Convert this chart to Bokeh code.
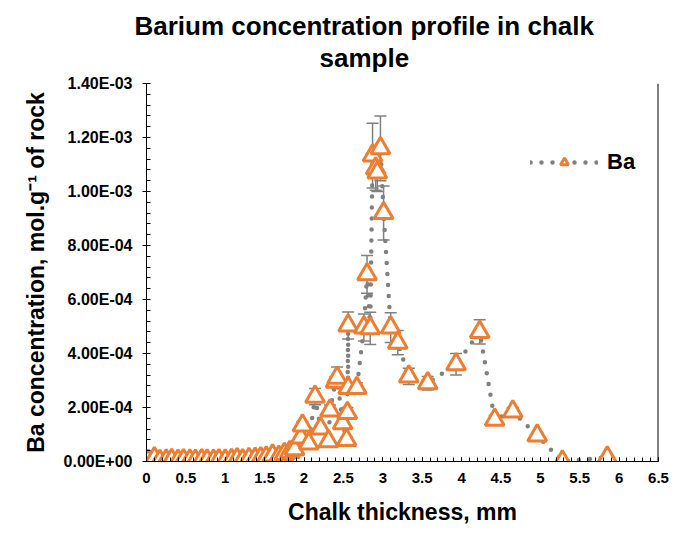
from bokeh.plotting import figure
from bokeh.models import (ColumnDataSource, Whisker, TeeHead, Title, Legend, LegendItem, Span,
                          SingleIntervalTicker, CustomJSTickFormatter, Range1d)
from bokeh.embed import file_html
from bokeh.resources import INLINE

# ---- data ----
thickness_mm = [0.02, 0.10, 0.17, 0.25, 0.32, 0.40, 0.47, 0.55, 0.62, 0.70, 0.77, 0.85, 0.92,
                1.00, 1.08, 1.15, 1.22, 1.30, 1.38, 1.45, 1.52, 1.60, 1.68, 1.75, 1.82, 1.88,
                1.96, 1.98, 2.06, 2.14, 2.21, 2.31, 2.33, 2.40, 2.42, 2.49, 2.54, 2.55, 2.56,
                2.56, 2.67, 2.76, 2.80, 2.84, 2.87, 2.91, 2.93, 2.97, 3.01, 3.10, 3.19, 3.33,
                3.57, 3.93, 4.23, 4.42, 4.65, 4.96, 5.28, 5.85]
ba_conc = [0.3e-5, 1.2e-5, 0.2e-5, 0.4e-5, 0.6e-5, 0.3e-5, 0.5e-5, 0.4e-5, 0.3e-5, 0.5e-5,
           0.4e-5, 0.3e-5, 0.5e-5, 0.4e-5, 0.6e-5, 0.8e-5, 0.5e-5, 0.9e-5, 1.0e-5, 1.2e-5,
           1.5e-5, 2.2e-5, 1.8e-5, 2.8e-5, 3.5e-5, 4.5e-5,
           0.89e-4, 1.33e-4, 0.67e-4, 2.40e-4, 1.22e-4, 0.75e-4, 1.89e-4, 2.95e-4, 3.10e-4,
           1.42e-4, 0.80e-4, 1.80e-4, 5.04e-4, 2.72e-4, 2.72e-4, 4.96e-4, 6.93e-4, 4.93e-4,
           11.33e-4, 10.85e-4, 10.70e-4, 11.60e-4, 9.20e-4, 4.96e-4, 4.40e-4, 3.15e-4,
           2.90e-4, 3.60e-4, 4.80e-4, 1.55e-4, 1.85e-4, 0.96e-4, 0.0, 0.15e-4]
ba_err = [0.1e-5, 0.2e-5, 0.1e-5, 0.1e-5, 0.1e-5, 0.1e-5, 0.1e-5, 0.1e-5, 0.1e-5, 0.1e-5,
          0.1e-5, 0.1e-5, 0.1e-5, 0.1e-5, 0.1e-5, 0.1e-5, 0.1e-5, 0.2e-5, 0.2e-5, 0.2e-5,
          0.2e-5, 0.3e-5, 0.3e-5, 0.4e-5, 0.5e-5, 0.6e-5,
          0.10e-4, 0.15e-4, 0.10e-4, 0.30e-4, 0.12e-4, 0.10e-4, 0.20e-4, 0.20e-4, 0.40e-4,
          0.15e-4, 0.10e-4, 0.20e-4, 0.50e-4, 0.20e-4, 0.20e-4, 0.50e-4, 0.70e-4, 0.60e-4,
          1.20e-4, 0.80e-4, 0.70e-4, 1.20e-4, 1.00e-4, 0.55e-4, 0.45e-4, 0.30e-4,
          0.25e-4, 0.40e-4, 0.45e-4, 0.15e-4, 0.15e-4, 0.10e-4, 0.0, 0.02e-4]

series_name = "Ba"
title_lines = ["Barium concentration profile in chalk", "sample"]
x_title = "Chalk thickness, mm"
y_title = "Ba concentration, mol.g\u207b\u00b9 of rock"

FONT = "Liberation Sans"
ORANGE = "#ED7D31"
GREY = "#808080"

src = ColumnDataSource(dict(
    x=thickness_mm, y=ba_conc,
    upper=[v + e for v, e in zip(ba_conc, ba_err)],
    lower=[v - e for v, e in zip(ba_conc, ba_err)],
))

p = figure(width=678, height=528, output_backend="svg", toolbar_location=None,
           x_range=Range1d(0, 6.5), y_range=Range1d(0, 1.4e-3),
           frame_width=512, frame_height=378,
           min_border_left=146, min_border_right=20, min_border_top=83, min_border_bottom=67,
           title=None, outline_line_color=None)

p.xgrid.grid_line_color = None
p.ygrid.grid_line_color = None

# axes
xa = p.xaxis[0]
xa.ticker = SingleIntervalTicker(interval=0.5, num_minor_ticks=5)
xa.axis_label = x_title
ya = p.yaxis[0]
ya.ticker = SingleIntervalTicker(interval=2e-4, num_minor_ticks=5)
ya.axis_label = y_title
ya.formatter = CustomJSTickFormatter(code="""
    const s = tick.toExponential(2).split('e');
    const sign = s[1][0];
    const d = s[1].slice(1).padStart(2, '0');
    return s[0] + 'E' + sign + d;
""")
for ax in (xa, ya):
    ax.axis_line_color = "black"
    ax.axis_line_width = 1
    ax.major_tick_line_color = "black"
    ax.minor_tick_line_color = "black"
    ax.major_label_text_font = FONT
    ax.major_label_text_font_style = "bold"
    ax.major_label_text_color = "black"
    ax.axis_label_text_font = FONT
    ax.axis_label_text_font_style = "bold"
    ax.axis_label_text_font_size = "23px"
    ax.axis_label_text_color = "black"
    ax.minor_tick_in = 4
    ax.minor_tick_out = 0
xa.major_label_text_font_size = "15px"
ya.major_label_text_font_size = "16px"
xa.major_tick_in = 4
xa.major_tick_out = 0
xa.major_label_standoff = 11
xa.axis_label_standoff = 13
ya.major_tick_in = 0
ya.major_tick_out = 4
ya.major_label_standoff = 10
ya.axis_label_standoff = 12

# right frame line
p.add_layout(Span(location=6.5, dimension="height", line_color="black", line_width=2))

# error bars
wk = Whisker(source=src, base="x", upper="upper", lower="lower", dimension="height",
             line_color=GREY, line_width=1.5,
             upper_head=TeeHead(size=12, line_color=GREY, line_width=1.5),
             lower_head=TeeHead(size=12, line_color=GREY, line_width=1.5))
p.add_layout(wk)

# dotted line + triangle markers
lr = p.line("x", "y", source=src, line_color=GREY, line_width=4.5,
            line_dash="0 11", line_cap="round")
sr = p.scatter("x", "y", source=src, marker="triangle", size=19,
               line_color=ORANGE, line_width=3, fill_color="white")

legend = Legend(items=[LegendItem(label=series_name, renderers=[lr, sr])],
                location=(384, 286), padding=0, margin=0, spacing=0,
                glyph_width=68, glyph_height=20, label_standoff=9,
                border_line_color=None, background_fill_alpha=0,
                label_text_font=FONT, label_text_font_style="bold",
                label_text_font_size="22px", label_text_color="black")
p.add_layout(legend)

# blank gap between the plot area and the title
p.add_layout(Title(text=" ", standoff=0, text_font=FONT, text_font_size="8px"), "above")

# two-line title (second line added first: it sits closest to the plot)
t2 = Title(text=title_lines[1], align="left", offset=173, standoff=0,
           text_font=FONT, text_font_style="bold", text_font_size="26px", text_color="black")
t1 = Title(text=title_lines[0], align="left", offset=-12, standoff=0,
           text_font=FONT, text_font_style="bold", text_font_size="26px", text_color="black")
p.add_layout(t2, "above")
p.add_layout(t1, "above")

open("out.html", "w").write(file_html(p, INLINE))
